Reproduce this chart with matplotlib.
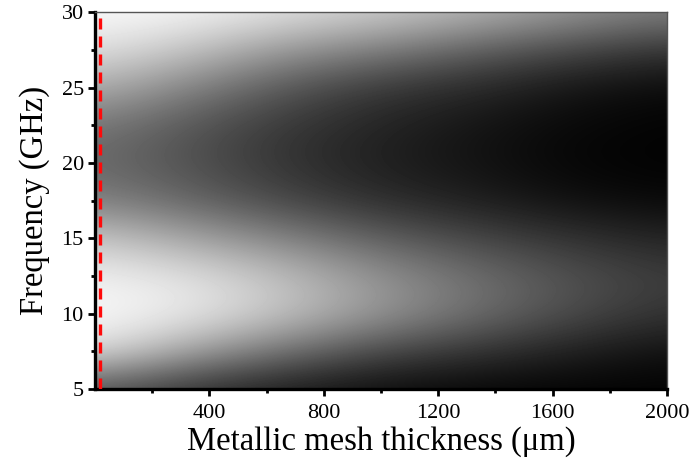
import numpy as np
import matplotlib
matplotlib.use("Agg")
import matplotlib.pyplot as plt

# Metallic mesh thickness samples (um) and frequency samples (GHz)
thickness_um = [0, 333, 667, 1000, 1333, 1667, 2000]
frequency_ghz = [5, 7.5, 10, 12.5, 15, 17.5, 20, 22.5, 25, 27.5, 30]

# Transmission brightness (0-255), one list per thickness, ordered by frequency
t0000 = [80, 225, 250, 240, 200, 130, 105, 120, 175, 225, 250]
t0333 = [45, 160, 235, 225, 165, 100, 80, 85, 130, 195, 245]
t0667 = [25, 110, 195, 190, 130, 70, 50, 55, 85, 150, 225]
t1000 = [10, 70, 150, 145, 95, 45, 30, 35, 55, 125, 205]
t1333 = [5, 50, 110, 110, 70, 30, 18, 20, 40, 95, 180]
t1667 = [3, 30, 75, 80, 50, 15, 5, 8, 20, 70, 150]
t2000 = [2, 15, 50, 60, 35, 8, 2, 3, 10, 50, 125]

# Thickness of the marked reference mesh (um)
marker_um = 17

plt.rcParams["font.family"] = ["Liberation Serif", "DejaVu Serif"]

fig = plt.figure(figsize=(6.93, 4.66), dpi=100)
ax = fig.add_axes([0.137, 0.165, 0.8255, 0.809])

Z = np.array([t0000, t0333, t0667, t1000, t1333, t1667, t2000]).T
dt = (thickness_um[-1] - thickness_um[0]) / (len(thickness_um) - 1)
df = (frequency_ghz[-1] - frequency_ghz[0]) / (len(frequency_ghz) - 1)
extent = (thickness_um[0] - dt / 2, thickness_um[-1] + dt / 2,
          frequency_ghz[0] - df / 2, frequency_ghz[-1] + df / 2)
ax.imshow(Z, origin="lower", extent=extent, aspect="auto", cmap="gray",
          vmin=0, vmax=255, interpolation="bicubic")

ax.axvline(marker_um, color="#ff0a0a", lw=2.4, ls=(0, (3.3, 2.1)), zorder=5)

ax.set_xlim(0, 2000)
ax.set_ylim(5, 30)
ax.set_xticks([400, 800, 1200, 1600, 2000])
ax.set_xticks([200, 600, 1000, 1400, 1800], minor=True)
ax.set_yticks([5, 10, 15, 20, 25, 30])
ax.set_yticks([7.5, 12.5, 17.5, 22.5, 27.5], minor=True)

ax.tick_params(which="major", direction="out", length=5, width=2,
               labelsize=16)
ax.tick_params(which="minor", direction="out", length=3, width=2)
ax.tick_params(axis="x", which="both", top=False, pad=6)
ax.tick_params(axis="y", which="both", right=False, pad=3)

for side in ("left", "bottom"):
    ax.spines[side].set_linewidth(2.4)
    ax.spines[side].set_color("black")
for side in ("top", "right"):
    ax.spines[side].set_linewidth(1.0)
    ax.spines[side].set_color("#555555")

ax.set_xlabel("Metallic mesh thickness (\u03bcm)", fontsize=23.5, labelpad=2)
ax.set_ylabel("Frequency (GHz)", fontsize=23.5, labelpad=8)

fig.savefig("out.png", dpi=100)
